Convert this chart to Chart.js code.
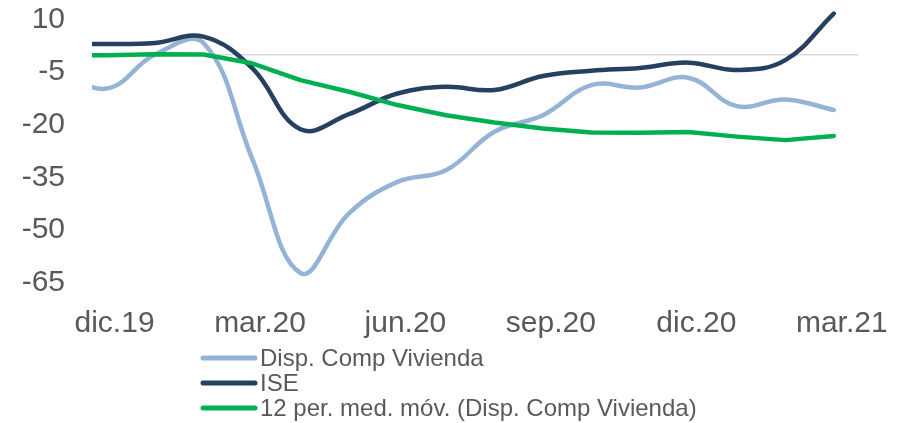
<!DOCTYPE html>
<html>
<head>
<meta charset="utf-8">
<script src="https://cdn.jsdelivr.net/npm/chart.js@4.4.0/dist/chart.umd.min.js"></script>
<style>
  body { margin: 0; background: #fff; }
  #wrap { width: 898px; height: 423px; position: relative; }
</style>
</head>
<body>
<div id="wrap"><canvas id="viviendaChart"></canvas></div>
<script>
// months shown on the chart (first one is only partly visible)
const months = ['nov.19', 'dic.19', 'ene.20', 'feb.20', 'mar.20', 'abr.20', 'may.20', 'jun.20',
  'jul.20', 'ago.20', 'sep.20', 'oct.20', 'nov.20', 'dic.20', 'ene.21', 'feb.21', 'mar.21'];
const xTickLabels = ['dic.19', 'mar.20', 'jun.20', 'sep.20', 'dic.20', 'mar.21'];
const yTickLabels = [-65, -50, -35, -20, -5, 10];

const dispCompVivienda = [-4, -9.7, 0, 3.3, -29.5, -62.3, -45.3, -36.3, -33, -22, -17.3, -8.7, -9.4, -6.6, -14.7, -12.8, -15.8];
const ise = [3.2, 3.0, 3.3, 5.1, -3.8, -21.3, -17, -11.1, -9.2, -10.1, -6.1, -4.6, -3.8, -2.3, -4.4, -1.6, 11.7];
const mediaMovil = [-0.2, -0.2, 0.1, 0, -2.5, -7.3, -10.6, -14.4, -17.3, -19.4, -21.1, -22.2, -22.3, -22.1, -23.4, -24.4, -23.2];

const textColor = '#595959';
const fontFamily = "'Liberation Sans', Arial, sans-serif";

function toPoints(values) {
    return values.map((v, i) => ({x: i, y: v}));
}

// legend stacked under the chart, drawn by hand
const stackedLegend = {
    id: 'stackedLegend',
    afterDraw(chart) {
        const ctx = chart.ctx;
        ctx.save();
        ctx.font = '24px ' + fontFamily;
        ctx.textBaseline = 'middle';
        ctx.fillStyle = textColor;
        chart.data.datasets.forEach((ds, i) => {
            const y = 358 + i * 25;
            ctx.strokeStyle = ds.borderColor;
            ctx.lineWidth = 5;
            ctx.lineCap = 'round';
            ctx.beginPath();
            ctx.moveTo(203, y);
            ctx.lineTo(255, y);
            ctx.stroke();
            ctx.fillText(ds.label, 260, y + 1);
        });
        ctx.restore();
    }
};

const ctx = document.getElementById('viviendaChart').getContext('2d');
const chart = new Chart(ctx, {
    type: 'line',
    data: {
        datasets: [{
            label: 'Disp. Comp Vivienda',
            data: toPoints(dispCompVivienda),
            borderColor: '#95B3D7',
            borderWidth: 4.5,
            tension: 0.4,
            order: 2
        }, {
            label: 'ISE',
            data: toPoints(ise),
            borderColor: '#254061',
            borderWidth: 4.5,
            tension: 0.4,
            order: 1
        }, {
            label: '12 per. med. móv. (Disp. Comp Vivienda)',
            data: toPoints(mediaMovil),
            borderColor: '#00B050',
            borderWidth: 4.5,
            tension: 0,
            order: 0
        }]
    },
    options: {
        responsive: true,
        maintainAspectRatio: false,
        animation: false,
        layout: {padding: {left: 0, right: 40, top: 19.5, bottom: 0}},
        elements: {
            point: {radius: 0},
            line: {borderCapStyle: 'round', borderJoinStyle: 'round', fill: false}
        },
        clip: {left: 0, top: false, right: false, bottom: false},
        plugins: {legend: {display: false}, tooltip: {enabled: false}},
        scales: {
            x: {
                type: 'linear',
                min: 0.7,
                max: 16.5,
                afterFit: (scale) => {
                    scale.height = 140.5;
                    scale.paddingLeft = 0;
                    scale.paddingRight = 0;
                },
                afterBuildTicks: (scale) => {
                    scale.ticks = xTickLabels.map(l => ({value: months.indexOf(l)}));
                },
                grid: {display: false, drawTicks: false},
                border: {display: false},
                ticks: {
                    callback: (v) => months[v],
                    color: textColor,
                    font: {family: fontFamily, size: 30},
                    padding: 23,
                    labelOffset: 8,
                    maxRotation: 0,
                    autoSkip: false
                }
            },
            y: {
                min: -65,
                max: 10,
                afterFit: (scale) => {
                    scale.width = 92;
                    scale.paddingTop = 0;
                    scale.paddingBottom = 0;
                },
                afterBuildTicks: (scale) => {
                    scale.ticks = yTickLabels.concat([0]).sort((a, b) => a - b).map(v => ({value: v}));
                },
                grid: {
                    drawTicks: false,
                    lineWidth: 1.5,
                    color: (c) => c.tick && c.tick.value === 0 ? '#D9D9D9' : 'rgba(0,0,0,0)'
                },
                border: {display: false},
                ticks: {
                    callback: (v) => yTickLabels.includes(v) ? String(v) : '',
                    color: textColor,
                    font: {family: fontFamily, size: 30},
                    padding: 27
                }
            }
        }
    },
    plugins: [stackedLegend]
});
</script>
</body>
</html>
